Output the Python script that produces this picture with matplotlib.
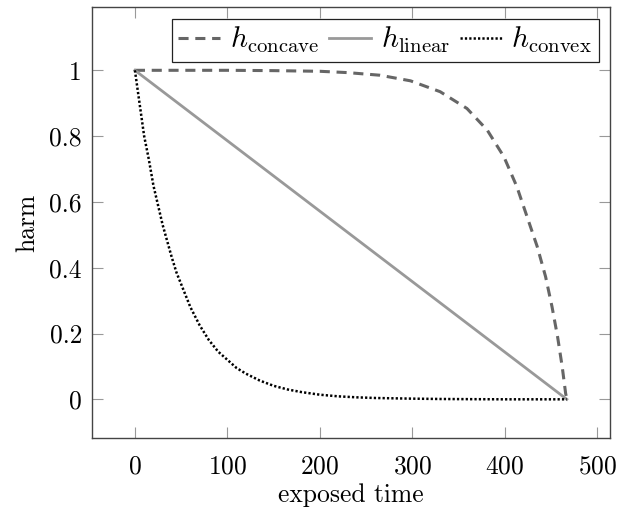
import numpy as np
from matplotlib import pyplot as plt

plt.rcParams['font.family'] = 'cmr10'
plt.rcParams['mathtext.fontset'] = 'cm'
plt.rcParams['axes.formatter.use_mathtext'] = True

# values
t_concave = [0, 50, 100, 150, 200, 230, 265, 298, 330, 359, 381, 399, 413, 424, 435, 444, 451, 457, 462, 465.7, 467]
h_concave = [1, 1, 1, 0.999, 0.997, 0.993, 0.985, 0.968, 0.935, 0.884, 0.818, 0.737, 0.646, 0.555, 0.464, 0.373, 0.281, 0.19, 0.099, 0.018, 0]

t_linear = [0, 467]
h_linear = [1, 0]

t_convex = [0, 5, 10, 15, 20, 25, 30, 35, 40, 45, 50, 60, 70, 80, 90, 100, 110, 120, 135, 150, 165, 180,
            200, 220, 240, 260, 280, 300, 330, 360, 400, 440, 467]
h_convex = [1, 0.9, 0.8, 0.73, 0.65, 0.59, 0.53, 0.48, 0.43, 0.385, 0.35, 0.28, 0.225, 0.18, 0.145, 0.12,
            0.095, 0.078, 0.057, 0.041, 0.03, 0.022, 0.014, 0.009, 0.006, 0.004, 0.003, 0.002, 0.001,
            0.0005, 0, 0, 0]

fig = plt.figure(figsize=(6.18, 5.07), dpi=100)
ax = fig.add_axes([0.1484, 0.1355, 0.8387, 0.8501])

ax.plot(t_concave, h_concave, c='#666666', lw=2.2, ls=(0, (3.3, 2.2)), label=r'$h_{\mathrm{concave}}$')
ax.plot(t_linear, h_linear, c='#999999', lw=2.0, ls='-', label=r'$h_{\mathrm{linear}}$')
ax.plot(t_convex, h_convex, c='black', lw=1.8, ls=(0, (0.9, 0.85)), label=r'$h_{\mathrm{convex}}$')

ax.set_xlim(-46.7, 513.7)
ax.set_ylim(-0.1185, 1.1915)
ax.set_xticks([0, 100, 200, 300, 400, 500])
ax.set_yticks([0, 0.2, 0.4, 0.6, 0.8, 1])
ax.set_yticklabels(['0', '0.2', '0.4', '0.6', '0.8', '1'])
ax.tick_params(direction='in', length=8, width=0.8, color='#999999', labelsize=18.4,
               top=True, right=True)
ax.tick_params(axis='x', pad=12)
ax.tick_params(axis='y', pad=7)
for s in ax.spines.values():
    s.set_linewidth(1.0)
    s.set_color('#444444')

ax.set_xlabel('exposed time', fontsize=18.4, labelpad=3)
ax.set_ylabel('harm', fontsize=18.4, labelpad=7)

leg = ax.legend(loc='upper right', ncol=3, fontsize=21.3, frameon=True, fancybox=False,
                edgecolor='#222222', framealpha=1, handlelength=1.42, handletextpad=0.33,
                columnspacing=0.33, borderpad=0.22, borderaxespad=0.38)
leg.get_frame().set_linewidth(0.9)

plt.savefig('out.png', dpi=100)
